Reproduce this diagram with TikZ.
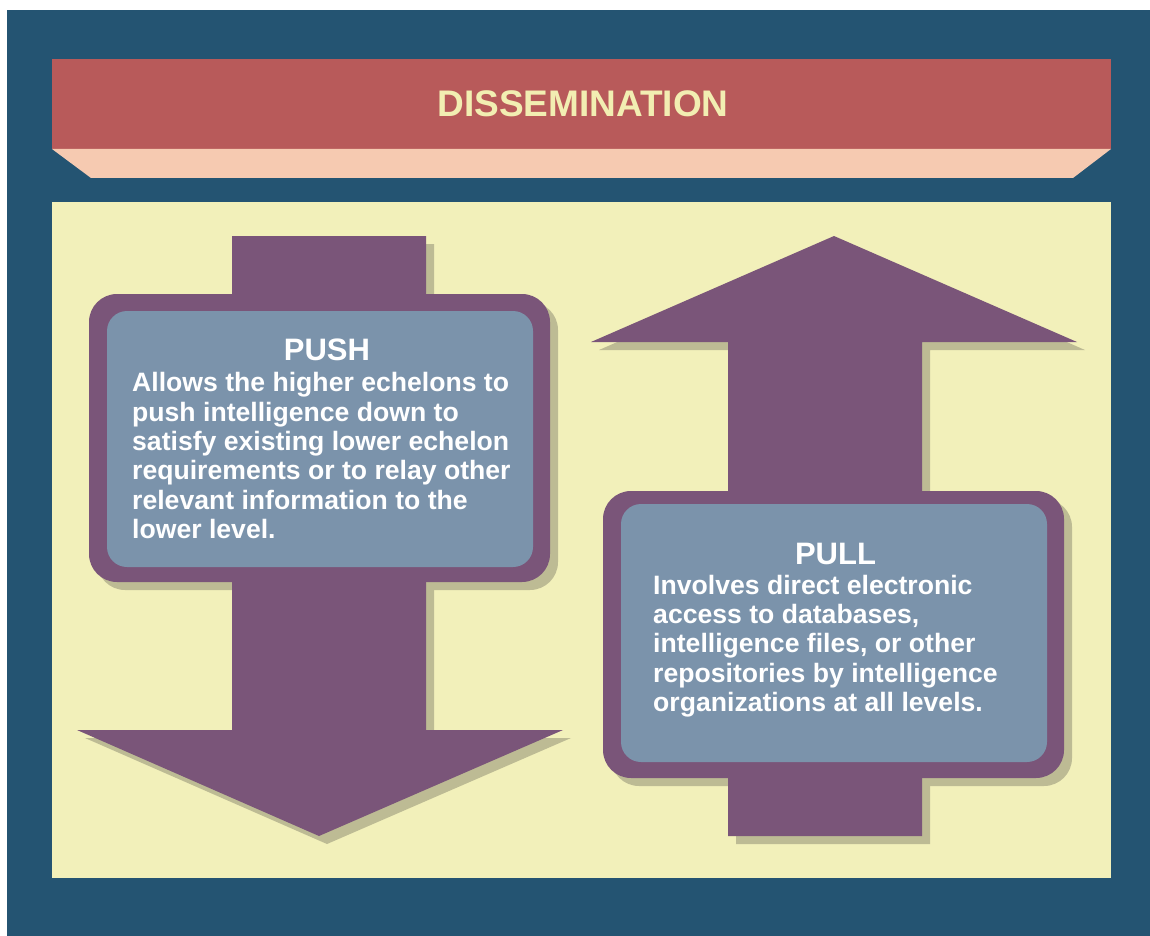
\documentclass[tikz,border=0pt]{standalone}
\usepackage{fontspec}
\setmainfont{Liberation Sans}
\definecolor{frameblue}{RGB}{36,84,114}
\definecolor{bannerred}{RGB}{184,90,90}
\definecolor{bandpeach}{RGB}{246,202,177}
\definecolor{panelyellow}{RGB}{242,240,186}
\definecolor{arrowpurple}{RGB}{122,85,121}
\definecolor{boxblue}{RGB}{123,147,171}
\definecolor{shadowolive}{RGB}{189,187,148}
\definecolor{titlecream}{RGB}{242,238,178}
\newcommand\pushshape[1]{%
  \fill[#1] (232,236) -- (426,236) -- (426,730) -- (563,730) -- (319,836) -- (77,730) -- (232,730) -- cycle;
  \fill[#1, rounded corners=28pt] (89,294) rectangle (550,582);}
\newcommand\pullshape[1]{%
  \fill[#1] (834,236) -- (1077,342) -- (922,342) -- (922,836) -- (728,836) -- (728,342) -- (591,342) -- cycle;
  \fill[#1, rounded corners=28pt] (603,491) rectangle (1064,778);}
\begin{document}
\begin{tikzpicture}[x=1pt, y=-1pt,
  titletext/.style={text=titlecream, inner sep=0pt, font=\fontsize{37}{40}\selectfont\bfseries},
  headtext/.style={text=white, inner sep=0pt, font=\fontsize{31}{34}\selectfont\bfseries},
  bodytext/.style={text=white, inner sep=0pt, font=\fontsize{26.6}{29.4}\selectfont\bfseries},
  shadowfill/.style={fill=shadowolive, shift={(8,8)}},
  arrowfill/.style={fill=arrowpurple},
  innerbox/.style={fill=boxblue, rounded corners=20pt}]
\useasboundingbox (0,0) rectangle (1150,936);
% frame and banner
\fill[frameblue] (7,10) rectangle (1150,936);
\fill[bannerred] (52,59) rectangle (1111,149);
\fill[bandpeach] (52,149) -- (1111,149) -- (1073,178) -- (91,178) -- cycle;
\fill[panelyellow] (52,202) rectangle (1111,878);
\node[titletext, anchor=base] (title) at (583,116.5) {DISSEMINATION};
% push
\pushshape{shadowfill}
\pushshape{arrowfill}
\fill[innerbox] (107,311) rectangle (533,567);
\node[headtext, anchor=base] (pushhead) at (327,360) {PUSH};
\node[bodytext, anchor=base west] (pushbody) at (132,391.7) {\begin{tabular}[t]{@{}l@{}}
Allows the higher echelons to\\
push intelligence down to\\
satisfy existing lower echelon\\
requirements or to relay other\\
relevant information to the\\
lower level.\end{tabular}};
% pull
\pullshape{shadowfill}
\pullshape{arrowfill}
\fill[innerbox] (621,504) rectangle (1047,762);
\node[headtext, anchor=base] (pullhead) at (835.5,564) {PULL};
\node[bodytext, anchor=base west] (pullbody) at (653,594) {\begin{tabular}[t]{@{}l@{}}
Involves direct electronic\\
access to databases,\\
intelligence files, or other\\
repositories by intelligence\\
organizations at all levels.\end{tabular}};
\end{tikzpicture}
\end{document}
